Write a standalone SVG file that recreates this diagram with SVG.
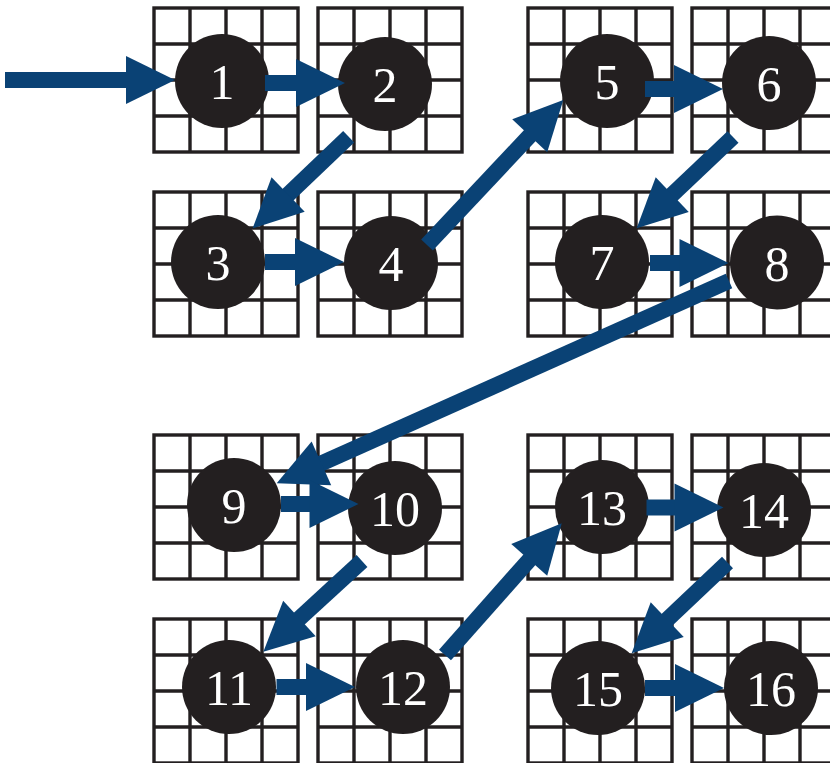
<svg xmlns="http://www.w3.org/2000/svg" width="830" height="763" viewBox="0 0 830 763">
<style>
.gr{fill:#ffffff;stroke:#231f20;stroke-width:3.4}
.gl{fill:none;stroke:#231f20;stroke-width:3.4}
.nd{fill:#231f20}
text{fill:#ffffff;font-family:'Liberation Serif',serif;font-size:50px;text-anchor:middle}
.ar{stroke:#0a4275;stroke-width:16;fill:none;marker-end:url(#ah)}
</style>
<defs>
<marker id="ah" markerUnits="userSpaceOnUse" markerWidth="50" markerHeight="48" refX="1" refY="24" orient="auto" viewBox="0 0 50 48" overflow="visible">
<path d="M0,0 L49,24 L0,48 Z" fill="#0a4275"/>
</marker>
<g id="grid">
<rect class="gr" x="0" y="0" width="144" height="144"/>
<path class="gl" d="M36,0V144M72,0V144M108,0V144M0,36H144M0,72H144M0,108H144"/>
</g>
</defs>
<rect width="830" height="763" fill="#ffffff"/>
<g id="node1"><use href="#grid" x="154" y="8"/><circle class="nd" cx="222" cy="81" r="47"/><text x="222" y="99" font-family="Liberation Serif">1</text></g>
<g id="node2"><use href="#grid" x="318" y="8"/><circle class="nd" cx="385" cy="84" r="47"/><text x="385" y="102" font-family="Liberation Serif">2</text></g>
<g id="node5"><use href="#grid" x="528" y="8"/><circle class="nd" cx="607" cy="81" r="47"/><text x="607" y="99" font-family="Liberation Serif">5</text></g>
<g id="node6"><use href="#grid" x="692" y="8"/><circle class="nd" cx="769" cy="83" r="47"/><text x="769" y="101" font-family="Liberation Serif">6</text></g>
<g id="node3"><use href="#grid" x="154" y="192"/><circle class="nd" cx="218" cy="262" r="47"/><text x="218" y="280" font-family="Liberation Serif">3</text></g>
<g id="node4"><use href="#grid" x="318" y="192"/><circle class="nd" cx="391" cy="263" r="47"/><text x="391" y="281" font-family="Liberation Serif">4</text></g>
<g id="node7"><use href="#grid" x="528" y="192"/><circle class="nd" cx="602" cy="262" r="47"/><text x="602" y="280" font-family="Liberation Serif">7</text></g>
<g id="node8"><use href="#grid" x="692" y="192"/><circle class="nd" cx="777" cy="262.5" r="47"/><text x="777" y="280.5" font-family="Liberation Serif">8</text></g>
<g id="node9"><use href="#grid" x="154" y="435"/><circle class="nd" cx="234" cy="505" r="47"/><text x="234" y="523" font-family="Liberation Serif">9</text></g>
<g id="node10"><use href="#grid" x="318" y="435"/><circle class="nd" cx="395" cy="508" r="47"/><text x="395" y="526" font-family="Liberation Serif">10</text></g>
<g id="node13"><use href="#grid" x="528" y="435"/><circle class="nd" cx="602" cy="507" r="47"/><text x="602" y="525" font-family="Liberation Serif">13</text></g>
<g id="node14"><use href="#grid" x="692" y="435"/><circle class="nd" cx="764" cy="510" r="47"/><text x="764" y="528" font-family="Liberation Serif">14</text></g>
<g id="node11"><use href="#grid" x="154" y="619"/><circle class="nd" cx="229" cy="687" r="47"/><text x="229" y="705" font-family="Liberation Serif">11</text></g>
<g id="node12"><use href="#grid" x="318" y="619"/><circle class="nd" cx="403" cy="687" r="47"/><text x="403" y="705" font-family="Liberation Serif">12</text></g>
<g id="node15"><use href="#grid" x="528" y="619"/><circle class="nd" cx="598" cy="688" r="47"/><text x="598" y="706" font-family="Liberation Serif">15</text></g>
<g id="node16"><use href="#grid" x="692" y="619"/><circle class="nd" cx="771" cy="688" r="47"/><text x="771" y="706" font-family="Liberation Serif">16</text></g>
<g id="connectors">
<line class="ar" x1="5" y1="80" x2="127" y2="80"/>
<line class="ar" x1="265" y1="83" x2="297" y2="83"/>
<line class="ar" x1="348.7" y1="136.7" x2="287.4" y2="195.2"/>
<line class="ar" x1="265" y1="262" x2="296" y2="262"/>
<line class="ar" x1="427" y1="245" x2="530.4" y2="135"/>
<line class="ar" x1="645" y1="89" x2="675" y2="89"/>
<line class="ar" x1="733" y1="137" x2="671.5" y2="195.3"/>
<line class="ar" x1="650" y1="263" x2="680.5" y2="263"/>
<line class="ar" x1="729" y1="281" x2="320.5" y2="463.7"/>
<line class="ar" x1="281" y1="504" x2="310.5" y2="504"/>
<line class="ar" x1="362" y1="561" x2="298.7" y2="619.2"/>
<line class="ar" x1="276.5" y1="687" x2="307" y2="687"/>
<line class="ar" x1="445" y1="655" x2="529.9" y2="559.2"/>
<line class="ar" x1="646.5" y1="507.5" x2="675.5" y2="507.5"/>
<line class="ar" x1="727.5" y1="562.5" x2="666.5" y2="620.3"/>
<line class="ar" x1="645" y1="688" x2="676" y2="688"/>
</g>
</svg>
